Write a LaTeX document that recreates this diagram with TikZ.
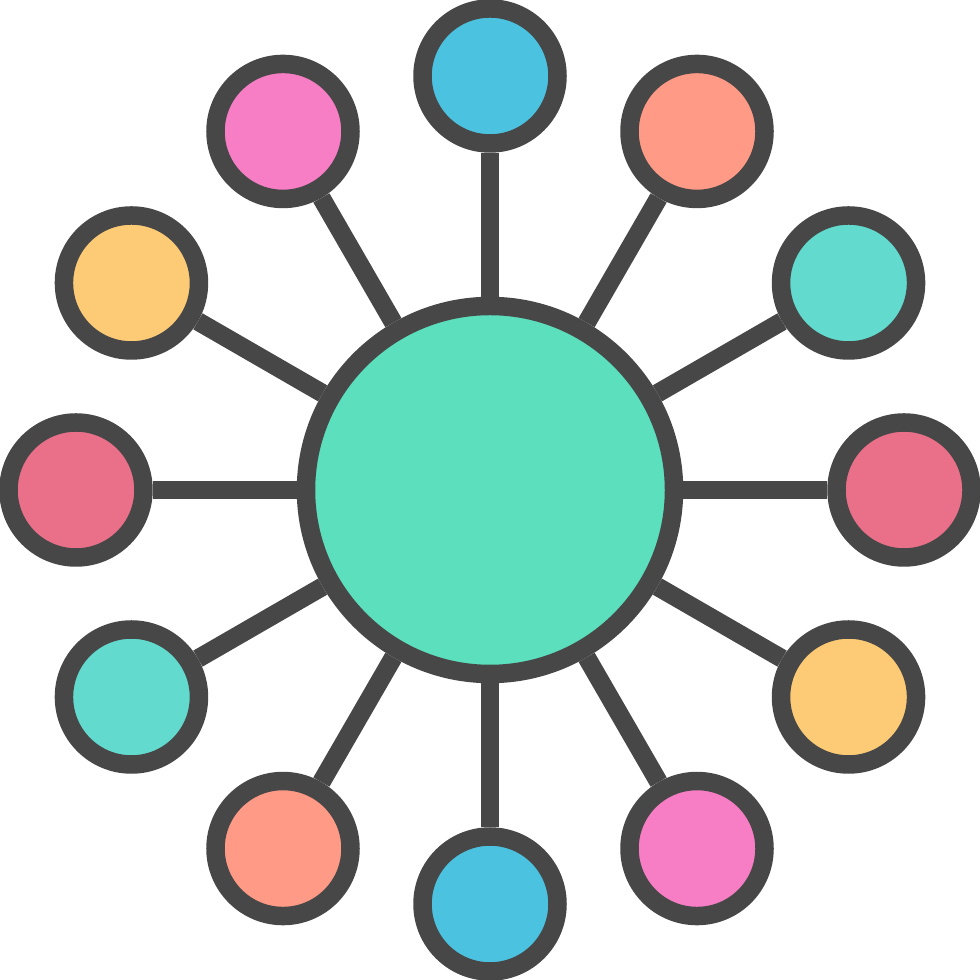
\documentclass[tikz,border=0pt]{standalone}
\usetikzlibrary{positioning}
\definecolor{rim}{HTML}{474747}
\definecolor{hubfill}{HTML}{5CDFBD}
\definecolor{cblue}{HTML}{4BC2E0}
\definecolor{csalmon}{HTML}{FF9A86}
\definecolor{cteal}{HTML}{62DACE}
\definecolor{cred}{HTML}{EA7089}
\definecolor{cyellow}{HTML}{FDCB75}
\definecolor{cpink}{HTML}{F77DC5}
\tikzset{
  hub/.style={circle,draw=rim,line width=0.185cm,fill=hubfill,inner sep=0pt,minimum size=3.68cm},
  leaf/.style={circle,draw=rim,line width=0.185cm,inner sep=0pt,minimum size=1.35cm},
  spoke/.style={draw=rim,line width=0.185cm}
}
\begin{document}
\begin{tikzpicture}
  \def\R{4.14}
  \def\cols{cblue/90,csalmon/60,cteal/30,cred/0,cyellow/-30,cpink/-60,cblue/-90,csalmon/-120,cteal/-150,cred/180,cyellow/150,cpink/120}

  \useasboundingbox (-4.9,-4.9) rectangle (4.9,4.9);

  \node[hub] (hub) at (0,0) {};

  \foreach \c/\a[count=\i] in \cols {
  \node[leaf,fill=\c] (s\i) at (\a:\R) {};
  \draw[spoke] (hub) -- (s\i);
  }

\end{tikzpicture}
\end{document}
